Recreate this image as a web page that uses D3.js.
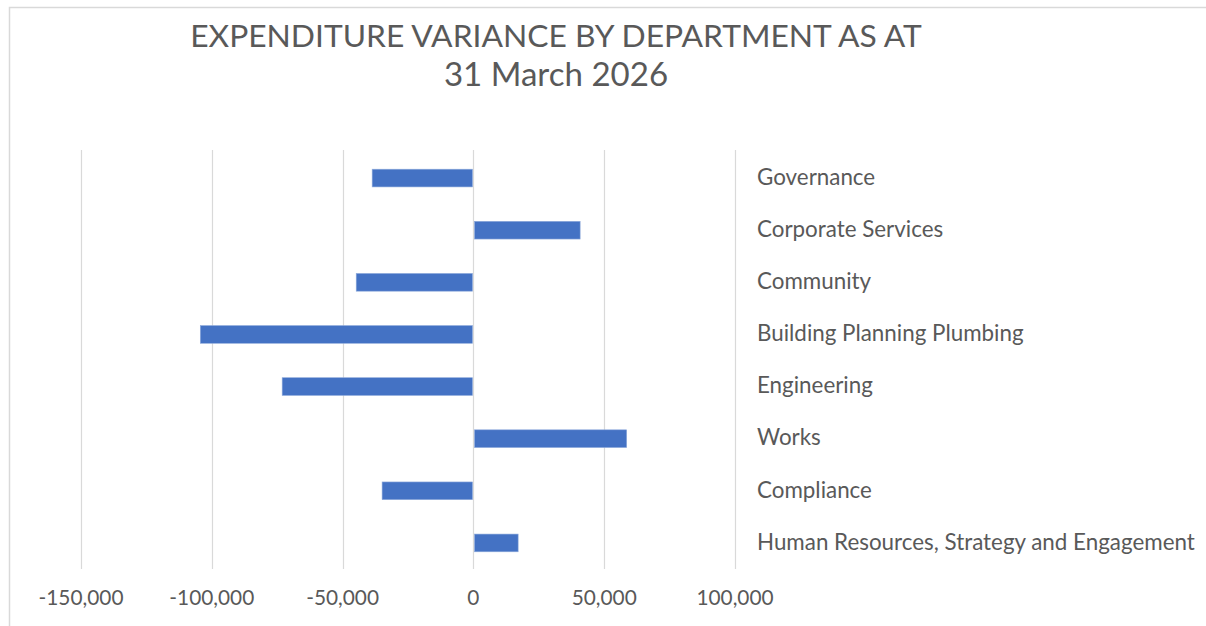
<!DOCTYPE html>
<html>
<head>
<meta charset="utf-8">
<script src="https://cdn.jsdelivr.net/npm/d3@7"></script>
<style>
  html, body { margin: 0; padding: 0; background: #fff; overflow: hidden; }
  text { font-family: Lato, "Open Sans", sans-serif; fill: #595959; }
</style>
</head>
<body>
<div id="chart"></div>
<script>
// chart data
const departments = [
    "Governance",
    "Corporate Services",
    "Community",
    "Building Planning Plumbing",
    "Engineering",
    "Works",
    "Compliance",
    "Human Resources, Strategy and Engagement"
]
const variance = [-38700, 40800, -44800, -104400, -73100, 58600, -34900, 17100]
const xTicks = [-150000, -100000, -50000, 0, 50000, 100000]
const titleLines = ["EXPENDITURE VARIANCE BY DEPARTMENT AS AT", "31 March 2026"]

const width = 1206, height = 626
const grid_color = "#d9d9d9", bar_color = "#4472C4"

const svg = d3.select("#chart")
    .append("svg")
    .attr("width", width)
    .attr("height", height)

// chart frame (runs off the right and bottom edge)
svg.append("rect")
    .attr("x", 9.5).attr("y", 7.5)
    .attr("width", width).attr("height", height)
    .attr("fill", "none")
    .attr("stroke", grid_color)
    .attr("stroke-width", 1.5)

const x = d3.scaleLinear()
    .domain([-150000, 100000])
    .range([81, 735])

const y = d3.scaleBand()
    .domain(departments)
    .range([152, 569])
    .paddingInner(0.66)
    .paddingOuter(0.33)

// shrink / grow a font so a text hits a given width
function fitSize(txt, size, target) {
    const t = svg.append("text").attr("font-size", size).text(txt)
    const w = t.node().getComputedTextLength()
    t.remove()
    return size * target / w
}

// vertical gridlines
svg.append("g")
    .selectAll("line")
    .data(xTicks)
    .join("line")
    .attr("x1", d => Math.round(x(d)) + 0.5)
    .attr("x2", d => Math.round(x(d)) + 0.5)
    .attr("y1", 150)
    .attr("y2", 569)
    .attr("stroke", grid_color)
    .attr("stroke-width", 1.2)

// bars, 1px gap off the zero line like excel does
const x0 = Math.round(x(0)) + 0.5
svg.append("g")
    .selectAll("rect")
    .data(departments.map((d, i) => ({name: d, value: variance[i]})))
    .join("rect")
    .attr("x", d => d.value < 0 ? x(d.value) : x0 + 1)
    .attr("width", d => d.value < 0 ? x0 - 1 - x(d.value) : x(d.value) - x0 - 1)
    .attr("y", d => y(d.name))
    .attr("height", y.bandwidth())
    .attr("fill", bar_color)
    .attr("stroke", "#8eaadb")
    .attr("stroke-width", 0.6)

// x axis tick labels, plain hyphen for negatives
const fmt = d3.formatLocale({decimal: ".", thousands: ",", grouping: [3], currency: ["", ""], minus: "-"}).format(",")
const tickSize = fitSize("-150,000", 16, 85)
svg.append("g")
    .selectAll("text")
    .data(xTicks)
    .join("text")
    .attr("x", d => x(d))
    .attr("y", 605)
    .attr("text-anchor", "middle")
    .attr("font-size", tickSize)
    .text(d => fmt(d))

// category labels on the right
const labelSize = fitSize(departments[7], 16, 438)
svg.append("g")
    .selectAll("text")
    .data(departments)
    .join("text")
    .attr("x", 757)
    .attr("y", d => y(d) + y.bandwidth() / 2)
    .attr("dy", "0.3em")
    .attr("font-size", labelSize)
    .text(d => d)

// title
const titleSize = fitSize(titleLines[0], 28, 732)
svg.append("text")
    .attr("x", 556).attr("y", 47)
    .attr("text-anchor", "middle")
    .attr("font-size", titleSize)
    .text(titleLines[0])
svg.append("text")
    .attr("x", 556).attr("y", 86)
    .attr("text-anchor", "middle")
    .attr("font-size", titleSize * 1.04)
    .text(titleLines[1])
</script>
</body>
</html>
